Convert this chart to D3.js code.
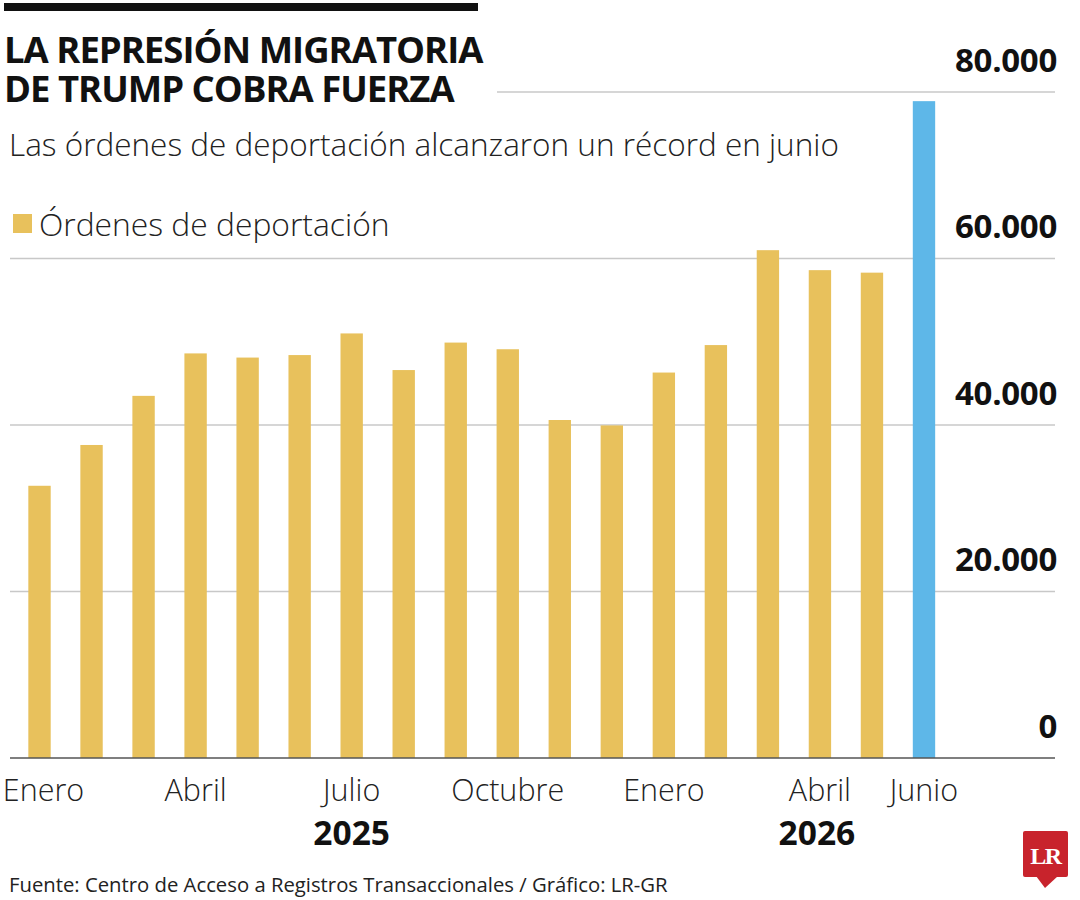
<!DOCTYPE html>
<html>
<head>
<meta charset="utf-8">
<script src="https://cdn.jsdelivr.net/npm/d3@7"></script>
<style>
  body { margin: 0; background: #fff; }
  svg { display: block; }
</style>
</head>
<body>
<div id="wrapper"></div>
<script>

// data (monthly deportation orders)
const months = ["2025-01","2025-02","2025-03","2025-04","2025-05","2025-06",
  "2025-07","2025-08","2025-09","2025-10","2025-11","2025-12",
  "2026-01","2026-02","2026-03","2026-04","2026-05","2026-06"]
const orders = [32700, 37600, 43500, 48600, 48100, 48400,
  51000, 46600, 49900, 49100, 40600, 39950,
  46300, 49600, 61000, 58600, 58300, 78900]
const monthLabels = ["Enero","","","Abril","","","Julio","","","Octubre","","",
  "Enero","","","Abril","","Junio"]
const yearLabels = ["2025", "2026"]
const yearAt = ["2025-07", "2026-04"]
const yTicks = [0, 20000, 40000, 60000, 80000]
const highlightMonth = "2026-06"

function drawChart() {

  let dimensions = {
    width: 1080,
    height: 900,
    margin: {
      top: 92,
      right: 25,
      bottom: 142,
      left: 10,
    },
  }
  dimensions.baseline = dimensions.height - dimensions.margin.bottom

  const wrapper = d3.select("#wrapper")
    .append("svg")
      .attr("width", dimensions.width)
      .attr("height", dimensions.height)

  const sans = "'Open Sans', 'Noto Sans', sans-serif"

  // scales
  const xScale = d3.scaleBand()
    .domain(months)
    .range([13.5, 950])
    .paddingInner(0.57)
    .paddingOuter(0.285)

  const yScale = d3.scaleLinear()
    .domain([0, 80000])
    .range([dimensions.baseline, dimensions.margin.top])

  const esLocale = d3.formatLocale({decimal: ",", thousands: ".", grouping: [3], currency: ["$", ""]})
  const fmt = esLocale.format(",")

  // header
  wrapper.append("rect")
    .attr("x", 4).attr("y", 3)
    .attr("width", 474).attr("height", 8)
    .attr("fill", "#111")

  const title = wrapper.append("text")
    .attr("font-family", sans)
    .attr("font-weight", 700)
    .attr("font-size", 36.5)
    .attr("letter-spacing", -1)
    .attr("fill", "#111")
  title.append("tspan").attr("x", 4).attr("y", 63).text("LA REPRESIÓN MIGRATORIA")
  title.append("tspan").attr("x", 4).attr("y", 102).text("DE TRUMP COBRA FUERZA")

  wrapper.append("text")
    .attr("x", 9).attr("y", 156)
    .attr("font-family", sans)
    .attr("font-weight", 300)
    .attr("font-size", 31.5)
    .attr("fill", "#222")
    .text("Las órdenes de deportación alcanzaron un récord en junio")

  // legend
  wrapper.append("rect")
    .attr("x", 13).attr("y", 214)
    .attr("width", 19).attr("height", 19)
    .attr("fill", "#E8C15C")
  wrapper.append("text")
    .attr("x", 39).attr("y", 236)
    .attr("font-family", sans)
    .attr("font-weight", 300)
    .attr("font-size", 31.8)
    .attr("fill", "#222")
    .text("Órdenes de deportación")

  // gridlines
  wrapper.append("g")
    .selectAll("line")
    .data(yTicks.filter(d => d > 0))
    .join("line")
      .attr("x1", d => d === 80000 ? 497 : 10)
      .attr("x2", 1055)
      .attr("y1", d => yScale(d))
      .attr("y2", d => yScale(d))
      .attr("stroke", "#c8c8c8")
      .attr("stroke-width", 1.5)

  // bars
  wrapper.append("g")
    .selectAll("rect")
    .data(months)
    .join("rect")
      .attr("x", d => xScale(d))
      .attr("width", xScale.bandwidth())
      .attr("y", (d, i) => yScale(orders[i]))
      .attr("height", (d, i) => dimensions.baseline - yScale(orders[i]))
      .attr("fill", d => d === highlightMonth ? "#5EB7E8" : "#E8C15C")

  // baseline
  wrapper.append("line")
    .attr("x1", 10).attr("x2", 1055)
    .attr("y1", dimensions.baseline).attr("y2", dimensions.baseline)
    .attr("stroke", "#555")
    .attr("stroke-width", 1.5)

  // y axis labels (right side, sitting above each line)
  const yAxis = wrapper.append("g")
    .attr("transform", "translate(1057,0)")
    .call(d3.axisLeft(yScale).tickValues(yTicks).tickSize(0).tickPadding(0).tickFormat(fmt))
  yAxis.select(".domain").remove()
  yAxis.selectAll("text")
    .attr("dy", -21)
    .attr("font-family", sans)
    .attr("font-weight", 700)
    .attr("font-size", 33)
    .attr("letter-spacing", -0.3)
    .attr("fill", "#111")

  // x axis labels
  const xAxis = wrapper.append("g")
    .attr("transform", `translate(0,${dimensions.baseline})`)
    .call(d3.axisBottom(xScale).tickSize(0).tickFormat((d, i) => monthLabels[i]))
  xAxis.select(".domain").remove()
  xAxis.selectAll("text")
    .attr("y", 43)
    .attr("dy", 0)
    .attr("dx", (d, i) => i === 0 ? 4 : 0)  // keep first label inside the frame
    .attr("font-family", sans)
    .attr("font-weight", 300)
    .attr("font-size", 30.5)
    .attr("fill", "#222")

  wrapper.append("g")
    .selectAll("text")
    .data(yearLabels)
    .join("text")
      .attr("x", (d, i) => xScale(yearAt[i]) + xScale.bandwidth() / 2 - (i ? 3 : 0))
      .attr("y", 845)
      .attr("text-anchor", "middle")
      .attr("font-family", sans)
      .attr("font-weight", 700)
      .attr("font-size", 33.5)
      .attr("fill", "#111")
      .text(d => d)

  // footer
  wrapper.append("text")
    .attr("x", 9).attr("y", 892)
    .attr("font-family", sans)
    .attr("font-size", 20.3)
    .attr("fill", "#222")
    .text("Fuente: Centro de Acceso a Registros Transaccionales / Gráfico: LR-GR")

  // LR badge
  const logo = wrapper.append("g")
  logo.append("rect")
    .attr("x", 1023).attr("y", 831)
    .attr("width", 45).attr("height", 46)
    .attr("rx", 2)
    .attr("fill", "#C8232C")
  logo.append("path")
    .attr("d", "M1036,876 L1058,876 L1045,888 Z")
    .attr("fill", "#C8232C")
  logo.append("text")
    .attr("x", 1045.5).attr("y", 864)
    .attr("text-anchor", "middle")
    .attr("font-family", "'Liberation Serif', 'DejaVu Serif', serif")
    .attr("font-weight", 700)
    .attr("font-size", 24)
    .attr("letter-spacing", -1.5)
    .attr("fill", "#fff")
    .text("LR")
}

drawChart()
</script>
</body>
</html>
